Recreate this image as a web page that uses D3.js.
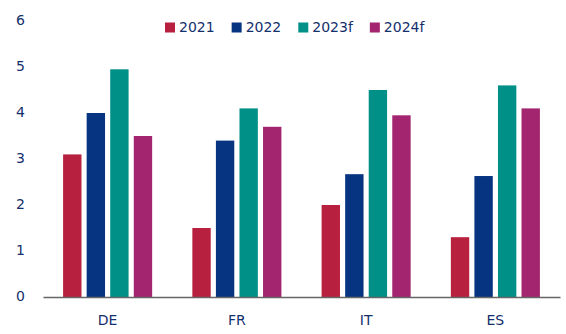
<!DOCTYPE html>
<html>
<head>
<meta charset="utf-8">
<script src="https://cdn.jsdelivr.net/npm/d3@7"></script>
<style>
  html, body { margin: 0; padding: 0; background: #fff; }
  svg { display: block; }
  text { font-family: "DejaVu Sans", Verdana, sans-serif; fill: #13306c; }
</style>
</head>
<body>
<svg id="chart" width="566" height="334"></svg>
<script>
const categories = ["DE", "FR", "IT", "ES"];
const seriesNames = ["2021", "2022", "2023f", "2024f"];
const s2021 = [3.1, 1.5, 2.0, 1.3];
const s2022 = [4.0, 3.4, 2.67, 2.63];
const s2023f = [4.95, 4.1, 4.5, 4.6];
const s2024f = [3.5, 3.7, 3.95, 4.1];
const seriesValues = [s2021, s2022, s2023f, s2024f];
const colors = ["#b8203f", "#063480", "#009088", "#a4256f"];
const yTicks = [0, 1, 2, 3, 4, 5, 6];

const svg = d3.select("#chart");

const x0 = d3.scaleBand().domain(categories).range([43, 560]).paddingInner(0).paddingOuter(0);
const groupW = x0.bandwidth() * 0.689;
const x1 = d3.scaleBand().domain(seriesNames).range([0, groupW]).paddingInner(0.22).paddingOuter(0);
const y = d3.scaleLinear().domain([0, 6]).range([297, 21]);

// bars
seriesNames.forEach((name, si) => {
  svg.append("g").selectAll("rect")
    .data(categories.map((c, ci) => ({ c, v: seriesValues[si][ci] })))
    .join("rect")
    .attr("x", d => x0(d.c) + (x0.bandwidth() - groupW) / 2 + x1(name))
    .attr("y", d => y(d.v))
    .attr("width", x1.bandwidth())
    .attr("height", d => y(0) - y(d.v))
    .attr("fill", colors[si]);
});

// y axis labels
const yAxis = d3.axisLeft(y).tickValues(yTicks).tickSize(0).tickPadding(0).tickFormat(d3.format("d"));
const yg = svg.append("g").attr("transform", "translate(25,-1)").call(yAxis);
yg.select(".domain").remove();
yg.selectAll("text").attr("font-size", 14).attr("font-family", null).attr("fill", "#13306c");

// x axis
const xAxis = d3.axisBottom(x0).tickSize(0).tickPadding(0);
const xg = svg.append("g").attr("transform", `translate(0,${y(0)})`).call(xAxis);
xg.select(".domain").attr("stroke", "#666").attr("stroke-width", 1.5);
xg.selectAll("text").attr("font-size", 14).attr("font-family", null).attr("fill", "#13306c")
  .attr("dy", null).attr("y", 28);

// legend
const legend = svg.append("g");
let lx = 165;
seriesNames.forEach((name, i) => {
  const g = legend.append("g").attr("transform", `translate(${lx},0)`);
  g.append("rect").attr("x", 0).attr("y", 22.5).attr("width", 10).attr("height", 10).attr("fill", colors[i]);
  const t = g.append("text").attr("x", 14).attr("y", 32).attr("font-size", 14).text(name);
  lx += 14 + t.node().getComputedTextLength() + 17;
});
</script>
</body>
</html>
